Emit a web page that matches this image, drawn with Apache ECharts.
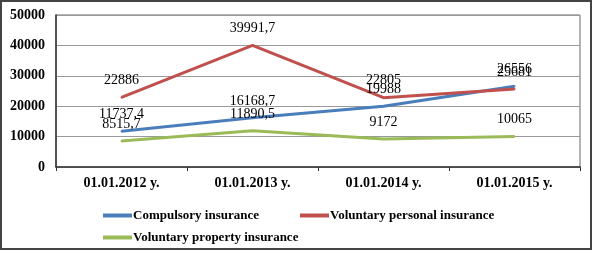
<!DOCTYPE html>
<html><head><meta charset="utf-8">
<script src="https://cdn.jsdelivr.net/npm/echarts@6/dist/echarts.min.js"></script>
<style>html,body{margin:0;padding:0;background:#fff}#c{width:595px;height:253px}</style>
</head><body><div id="c"></div>
<script>
const categories = ['01.01.2012 y.', '01.01.2013 y.', '01.01.2014 y.', '01.01.2015 y.'];
const compulsory = [11737.4, 16168.7, 19988, 26556];
const voluntaryPersonal = [22886, 39991.7, 22805, 25681];
const voluntaryProperty = [8515.7, 11890.5, 9172, 10065];
const seriesNames = ['Compulsory insurance', 'Voluntary personal insurance', 'Voluntary property insurance'];
const colors = ['#4a7ebb', '#c0504d', '#9bbb59'];

const serif = '"Liberation Serif", "Times New Roman", serif';
function mkSeries(name, data, color) {
  return {
    name: name, type: 'line', data: data,
    symbol: 'circle', symbolSize: 2, showSymbol: true,
    lineStyle: { color: color, width: 3 },
    itemStyle: { color: color },
    label: {
      show: true, position: 'top', distance: 9,
      fontFamily: serif, fontSize: 14, color: '#000',
      formatter: p => String(p.value).replace('.', ',')
    },
    emphasis: { disabled: true }
  };
}
const legendBase = {
  itemWidth: 29, itemHeight: 4, icon: 'rect', itemGap: 0,
  textStyle: { fontFamily: serif, fontSize: 13, fontWeight: 'bold', color: '#000', padding: [0, 0, 0, -4] },
  selectedMode: false, padding: 0
};
const chart = echarts.init(document.getElementById('c'), null, { renderer: 'canvas' });
chart.setOption({
  animation: false,
  color: colors,
  graphic: [{
    type: 'rect', shape: { x: 1, y: 1, width: 590, height: 248 },
    style: { fill: 'none', stroke: '#444', lineWidth: 2 }, silent: true, z: 100
  }],
  grid: { left: 56, top: 15, right: 15, bottom: 86, show: true, borderColor: '#666', borderWidth: 1, containLabel: false },
  legend: [
    Object.assign({}, legendBase, { data: [seriesNames[0]], left: 103, top: 209 }),
    Object.assign({}, legendBase, { data: [seriesNames[1]], left: 300, top: 209 }),
    Object.assign({}, legendBase, { data: [seriesNames[2]], left: 103, top: 231 })
  ],
  xAxis: {
    type: 'category', data: categories, boundaryGap: true,
    axisLine: { lineStyle: { color: '#333', width: 1.5 } },
    axisTick: { show: true, length: 4, lineStyle: { color: '#333' } },
    axisLabel: { fontFamily: serif, fontSize: 14, fontWeight: 'bold', color: '#000', margin: 9 }
  },
  yAxis: {
    type: 'value', min: 0, max: 50000, interval: 10000,
    axisLine: { show: true, lineStyle: { color: '#333', width: 1.5 } },
    axisTick: { show: false },
    splitLine: { lineStyle: { color: '#999', width: 1 } },
    axisLabel: { fontFamily: serif, fontSize: 14, fontWeight: 'bold', color: '#000', margin: 11, formatter: v => String(v) }
  },
  series: [
    mkSeries(seriesNames[0], compulsory, colors[0]),
    mkSeries(seriesNames[1], voluntaryPersonal, colors[1]),
    mkSeries(seriesNames[2], voluntaryProperty, colors[2])
  ]
});
</script></body></html>
